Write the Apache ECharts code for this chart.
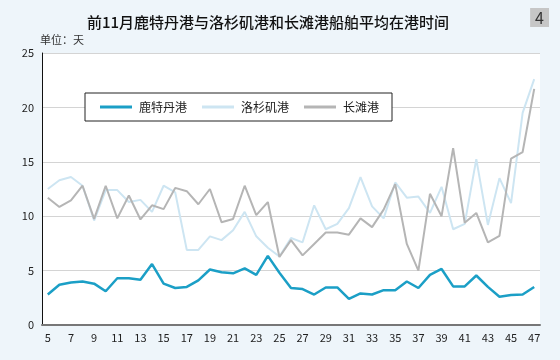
<!DOCTYPE html>
<html><head><meta charset="utf-8">
<script src="https://cdn.jsdelivr.net/npm/echarts@6/dist/echarts.min.js"></script>
<style>html,body{margin:0;padding:0;background:#eef5fa}#c{width:560px;height:360px}</style>
</head><body><div id="c"></div>
<script>
var weeks = ['5','6','7','8','9','10','11','12','13','14','15','16','17','18','19','20','21','22','23','24','25','26','27','28','29','30','31','32','33','34','35','36','37','38','39','40','41','42','43','44','45','46','47'];
var rotterdam = [2.8,3.7,3.9,4.0,3.8,3.1,4.3,4.3,4.15,5.6,3.8,3.4,3.5,4.1,5.1,4.85,4.75,5.2,4.6,6.35,4.8,3.4,3.3,2.8,3.45,3.45,2.4,2.9,2.8,3.2,3.2,4.0,3.4,4.6,5.15,3.55,3.55,4.55,3.5,2.6,2.75,2.8,3.5];
var losAngeles = [12.5,13.3,13.6,12.8,9.6,12.4,12.4,11.3,11.5,10.4,12.8,12.2,6.9,6.9,8.15,7.8,8.7,10.4,8.15,7.1,6.3,8.0,7.6,11.0,8.8,9.3,10.75,13.6,10.9,9.8,13.1,11.7,11.8,10.3,12.7,8.8,9.3,15.25,9.2,13.5,11.2,19.5,22.6];
var longBeach = [11.7,10.85,11.45,12.8,9.75,12.8,9.8,11.9,9.7,11.0,10.65,12.6,12.3,11.1,12.5,9.45,9.75,12.8,10.1,11.3,6.25,7.8,6.4,7.45,8.5,8.5,8.3,9.8,9.0,10.6,12.95,7.45,5.0,12.06,10.0,16.25,9.4,10.3,7.6,8.2,15.3,15.9,21.7];
var names = ['鹿特丹港','洛杉矶港','长滩港'];
var colors = ['#1b9fc6','#cde5f2','#b5b5b5'];

var chart = echarts.init(document.getElementById('c'));
var ff = '"Noto Sans CJK SC", "Noto Sans", sans-serif';
chart.setOption({
  backgroundColor: '#eef5fa',
  animation: false,
  textStyle: {fontFamily: ff},
  title: [
    {text: '前11月鹿特丹港与洛杉矶港和长滩港船舶平均在港时间', left: 263, textAlign: 'center', top: 10,
     textStyle: {fontSize: 15, fontWeight: 500, color: '#111', fontFamily: ff}},
    {text: '4', right: 11, top: 8, backgroundColor: '#c6c6c6', padding: [2, 5, 1, 5],
     textStyle: {fontSize: 16, fontWeight: 'normal', color: '#333', fontFamily: ff}},
    {text: '单位：天', left: 40, top: 34, padding: 0,
     textStyle: {fontSize: 11, fontWeight: 'normal', color: '#333', fontFamily: ff}}
  ],
  legend: {
    left: 85, top: 93, padding: [8, 13, 8, 15],
    borderColor: '#222', borderWidth: 1, backgroundColor: '#fff',
    icon: 'rect', itemWidth: 32, itemHeight: 3, itemGap: 15,
    textStyle: {fontSize: 12, color: '#222', padding: [0, 0, 0, 2], fontFamily: ff},
    data: names
  },
  grid: {left: 42, right: 20, top: 53, bottom: 35, show: true, backgroundColor: '#fff', borderWidth: 0},
  xAxis: {
    type: 'category', data: weeks, boundaryGap: true,
    axisLine: {lineStyle: {color: '#777', width: 2}},
    axisTick: {show: false},
    axisLabel: {interval: 1, fontSize: 11, color: '#222', margin: 7}
  },
  yAxis: {
    type: 'value', min: 0, max: 25, interval: 5,
    axisLine: {show: true, lineStyle: {color: '#111', width: 1}},
    axisTick: {show: false},
    axisLabel: {fontSize: 11, color: '#222', margin: 8},
    splitLine: {lineStyle: {color: '#d4d4d4', width: 1}}
  },
  series: [
    {name: names[1], type: 'line', data: losAngeles, symbol: 'none', z: 2, lineStyle: {color: colors[1], width: 2}, itemStyle: {color: colors[1]}},
    {name: names[2], type: 'line', data: longBeach, symbol: 'none', z: 3, lineStyle: {color: colors[2], width: 2}, itemStyle: {color: colors[2]}},
    {name: names[0], type: 'line', data: rotterdam, symbol: 'none', z: 4, lineStyle: {color: colors[0], width: 2.5}, itemStyle: {color: colors[0]}}
  ]
});
</script></body></html>
